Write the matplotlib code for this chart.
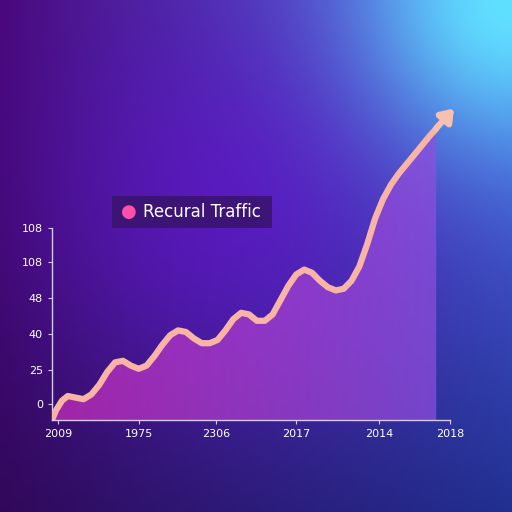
import numpy as np
import matplotlib.pyplot as plt
from matplotlib.patches import FancyBboxPatch, Polygon

# curve samples (x 0..100, y 0..100)
curve_x = [0, 1, 2.5, 4, 6, 8, 10, 12, 14, 16, 18, 20, 22, 24, 26, 28, 30, 32, 34, 36,
           38, 40, 42, 44, 46, 48, 50, 52, 54, 56, 58, 60, 62, 64, 66, 68, 70, 72, 74,
           76, 78, 80, 82, 84, 86, 88, 90, 92, 94, 96, 97.5]
curve_y = [0, 3, 6, 7.5, 7, 6.5, 8, 11, 15, 18, 18.5, 17, 16, 17, 20, 23.5, 26.5, 28,
           27.5, 25.5, 24, 24, 25, 28, 31.5, 33.5, 33, 31, 31, 33, 37.5, 42, 45.5, 47,
           46, 43.5, 41.5, 40.5, 41, 43.5, 48, 55, 63, 69, 73.5, 77, 80, 83, 86, 89, 91]

ytick_pos = [60, 49.4, 38, 26.9, 15.6, 5]
ytick_labels = ["108", "108", "48", "40", "25", "0"]
xtick_pos = [1.5, 22, 41.7, 62, 83, 101]
xtick_labels = ["2009", "1975", "2306", "2017", "2014", "2018"]

fig = plt.figure(figsize=(5.12, 5.12), dpi=100)

# background gradient
bg = fig.add_axes([0, 0, 1, 1])
n = 256
u, v = np.meshgrid(np.linspace(0, 1, n), np.linspace(1, 0, n))  # v=1 top
tl = np.array([0x48, 0x08, 0x78]) / 255
bl = np.array([0x30, 0x08, 0x58]) / 255
tr = np.array([0x50, 0x70, 0xf0]) / 255
br = np.array([0x20, 0x30, 0x90]) / 255
img = (tl * ((1 - u) * v)[..., None] + bl * ((1 - u) * (1 - v))[..., None]
       + tr * (u * v)[..., None] + br * (u * (1 - v))[..., None])
mid = np.exp(-((u - 0.45) ** 2 + (v - 0.6) ** 2) / 0.15)[..., None]
img = img * (1 - 0.6 * mid) + np.array([0x6a, 0x10, 0xd8]) / 255 * 0.6 * mid
glow = np.exp(-((u - 1) ** 2 + (v - 1) ** 2) / 0.08)[..., None]
img = img * (1 - glow) + np.array([0x60, 0xe0, 0xff]) / 255 * glow
bg.imshow(np.clip(img, 0, 1), aspect="auto", extent=[0, 1, 0, 1])
bg.axis("off")

ax = fig.add_axes([52 / 512, 92 / 512, 398 / 512, 320 / 512])
ax.set_xlim(0, 100)
ax.set_ylim(0, 100)
ax.patch.set_alpha(0)

# area fill with horizontal gradient
grad = np.linspace(0, 1, 200)[None, :]
fill_img = np.zeros((1, 200, 4))
c1 = np.array([0xd0, 0x30, 0xc0]) / 255
c2 = np.array([0x90, 0x50, 0xe0]) / 255
fill_img[..., :3] = c1 * (1 - grad[..., None]) + c2 * grad[..., None]
fill_img[..., 3] = 0.7
im = ax.imshow(fill_img, aspect="auto", extent=[0, 100, 0, 100], zorder=1)
poly = Polygon(list(zip(curve_x, curve_y)) + [(curve_x[-1], 0), (0, 0)], closed=True,
               transform=ax.transData, facecolor="none", edgecolor="none")
ax.add_patch(poly)
im.set_clip_path(poly)

ax.plot(curve_x, curve_y, color="#f8b4a4", lw=4.5, solid_capstyle="round",
        solid_joinstyle="round", zorder=3)
ax.annotate("", xy=(102.5, 98), xytext=(97, 90.5), annotation_clip=False,
            arrowprops=dict(arrowstyle="-|>,head_width=0.5,head_length=0.7",
                            color="#f8c0b0", lw=4.5), zorder=4)

for s in ["top", "right"]:
    ax.spines[s].set_visible(False)
for s in ["left", "bottom"]:
    ax.spines[s].set_color("#d8c8f0")
    ax.spines[s].set_linewidth(1)
ax.spines["left"].set_bounds(0, 60)
ax.set_yticks(ytick_pos, ytick_labels)
ax.set_xticks(xtick_pos, xtick_labels)
ax.tick_params(colors="#d8c8f0", labelcolor="white", labelsize=8, length=3)

# legend box
leg = FancyBboxPatch((112 / 512, 284 / 512), 160 / 512, 32 / 512,
                     boxstyle="square,pad=0", transform=fig.transFigure,
                     facecolor="#3a1470", edgecolor="none", alpha=0.9)
fig.patches.append(leg)
fig.text(129 / 512, 300 / 512, "●", color="#ff4fa8", fontsize=13, va="center", ha="center")
fig.text(143 / 512, 300 / 512, "Recural Traffic", color="white", fontsize=12, va="center")

fig.savefig("out.png", dpi=100)
